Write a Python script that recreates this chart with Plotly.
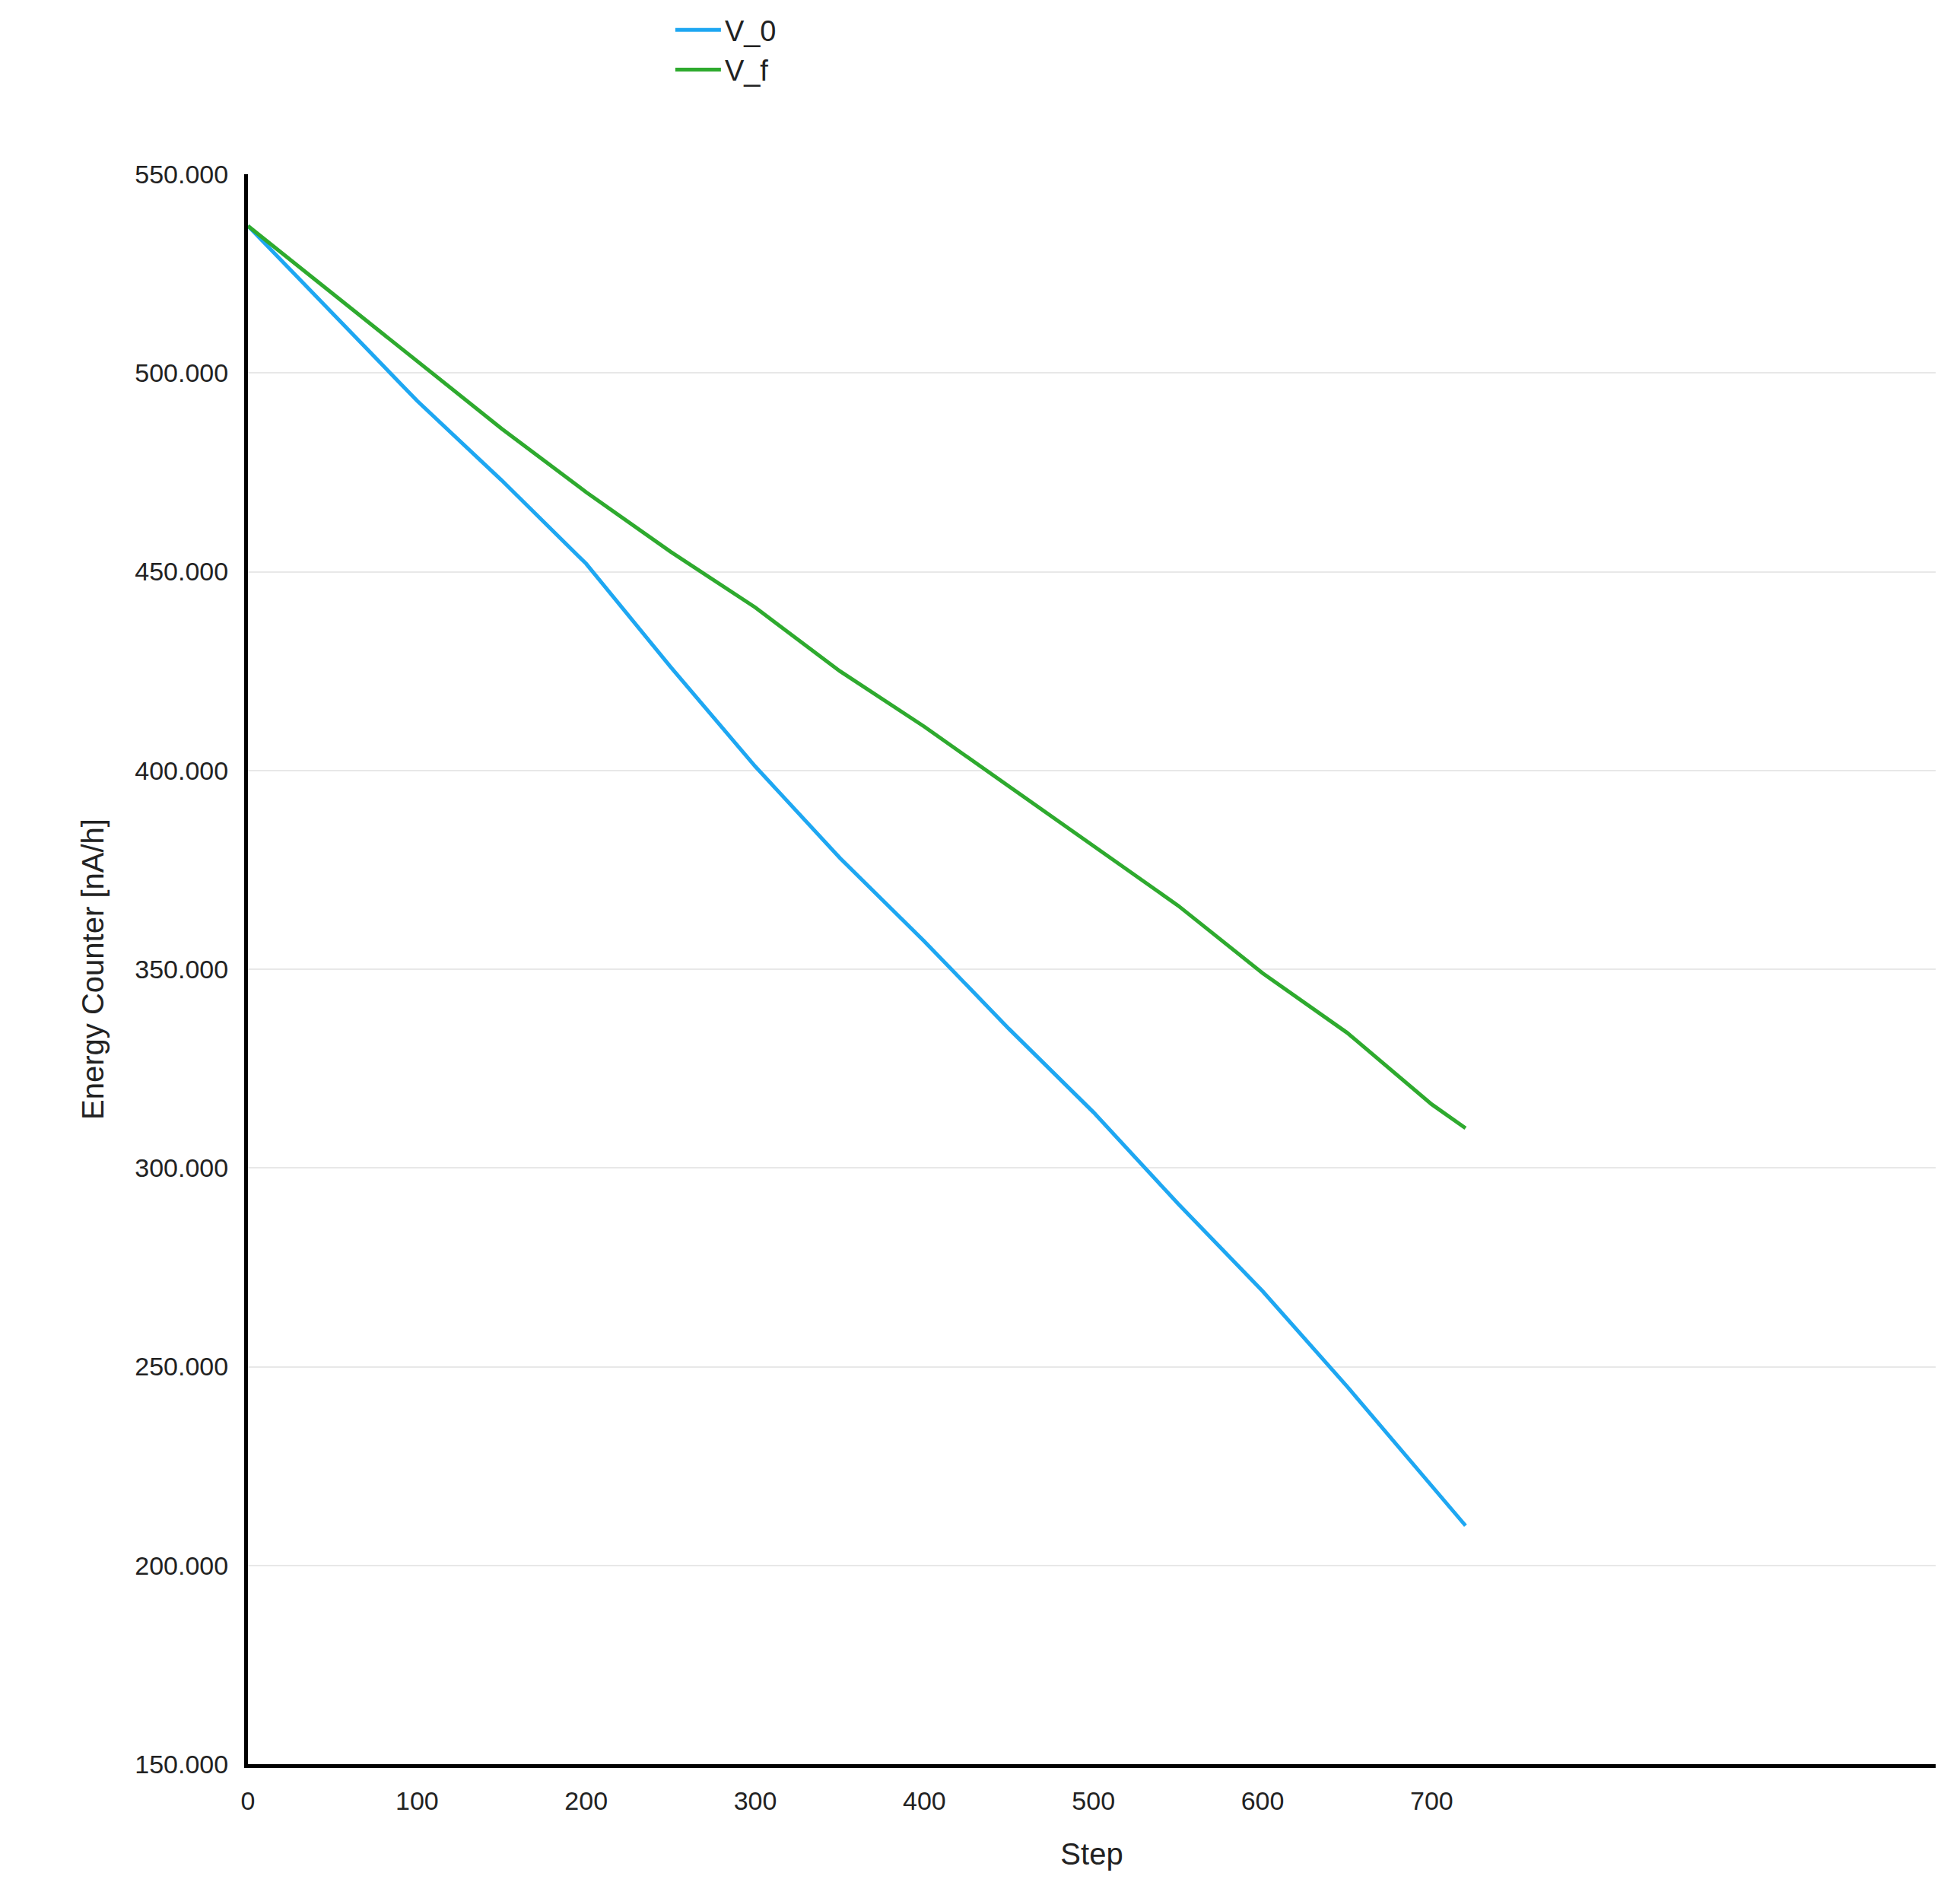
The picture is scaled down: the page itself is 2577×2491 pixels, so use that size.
import plotly.graph_objects as go

steps = [0, 50, 100, 150, 200, 250, 300, 350, 400, 450, 500, 550, 600, 650, 700, 720]
v_0 = [537, 515, 493, 473, 452, 426, 401, 378, 357, 335, 314, 291, 269, 245, 220, 210]
v_f = [537, 520, 503, 486, 470, 455, 441, 425, 411, 396, 381, 366, 349, 334, 316, 310]

fig = go.Figure()
fig.add_trace(go.Scatter(x=steps, y=v_0, name="V_0", mode="lines", line=dict(color="#1ea7f2", width=5)))
fig.add_trace(go.Scatter(x=steps, y=v_f, name="V_f", mode="lines", line=dict(color="#2eaa2e", width=5)))

fig.update_layout(
    width=2577, height=2491, paper_bgcolor="white", plot_bgcolor="white",
    margin=dict(l=318, r=40, t=116, b=180),
    font=dict(family="Liberation Sans, Arial", size=34, color="#222"),
    legend=dict(orientation="h", x=0.375, xanchor="left", y=1.045, yanchor="bottom",
                font=dict(size=38), itemwidth=60, entrywidth=770, tracegroupgap=0),
)
fig.update_xaxes(range=[0, 998], tickvals=[0, 100, 200, 300, 400, 500, 600, 700],
                 showgrid=False, showline=True, linecolor="black", linewidth=5,
                 ticks="outside", ticklen=14, tickcolor="white",
                 title=dict(text="Step", font=dict(size=40), standoff=40), zeroline=False)
fig.update_yaxes(range=[150, 550], dtick=50, tickformat=".3f", showgrid=True, gridcolor="#e8e8e8", gridwidth=2,
                 showline=True, linecolor="black", linewidth=5, zeroline=False,
                 ticks="outside", ticklen=14, tickcolor="white",
                 title=dict(text="Energy Counter [nA/h]", font=dict(size=40), standoff=30))
fig.write_html("out.html")
